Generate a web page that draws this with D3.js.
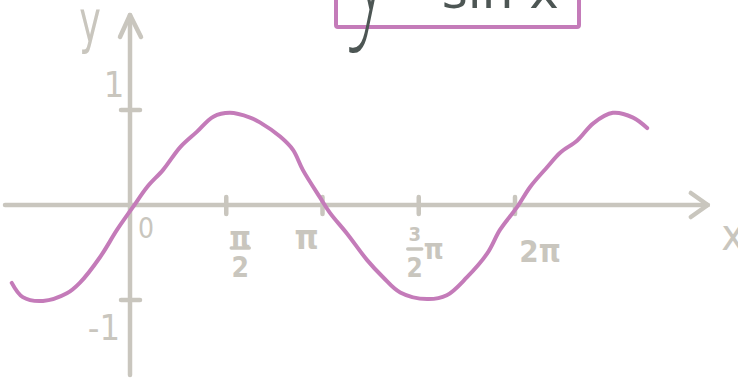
<!DOCTYPE html>
<html>
<head>
<meta charset="utf-8">
<script src="https://cdn.jsdelivr.net/npm/d3@7"></script>
<style>
  html, body { margin: 0; padding: 0; background: #ffffff; }
  svg { display: block; }
</style>
</head>
<body>
<div id="chart"></div>
<script>
// curve points: x in radians, y value
const curveX = [-1.93, -1.75, -1.42, -1.03, -0.82, -0.49, -0.21, 0.05, 0.28, 0.54,
                0.82, 1.09, 1.36, 1.63, 1.96, 2.12, 2.45, 2.66, 2.82, 3.10,
                3.26, 3.54, 3.87, 4.13, 4.41, 4.85, 5.17, 5.50, 5.83, 6.04,
                6.32, 6.53, 6.81, 7.02, 7.30, 7.56, 7.88, 8.21, 8.44];
const curveY = [-0.82, -0.97, -1.01, -0.93, -0.82, -0.55, -0.26, -0.02, 0.19, 0.37,
                0.61, 0.77, 0.93, 0.97, 0.92, 0.87, 0.72, 0.58, 0.37, 0.08,
                -0.08, -0.30, -0.58, -0.76, -0.92, -0.99, -0.95, -0.76, -0.51, -0.26,
                -0.02, 0.19, 0.40, 0.55, 0.68, 0.86, 0.97, 0.92, 0.81];

// tick values and labels
const xTickValues = [Math.PI / 2, Math.PI, 3 * Math.PI / 2, 2 * Math.PI];
const xTickLabels = ["π/2", "π", "3/2π", "2π"];
const yTickValues = [1, -1];
const yTickLabels = ["1", "-1"];
const titleY = "y";
const titleRest = "= sin x";

const W = 738, H = 378;
const grey = "#c9c6be", pink = "#c47bb9", dark = "#4d5654";

const svg = d3.select("#chart")
  .append("svg")
    .attr("width", W)
    .attr("height", H);

// scales
const x = d3.scaleLinear().domain([0, 2 * Math.PI]).range([130, 515]);
const y = d3.scaleLinear().domain([-1, 1]).range([300, 110]);

const xExtent = [-2.04, 9.43];
const yExtent = [-1.79, 2.0];

const axes = svg.append("g")
  .attr("stroke", grey)
  .attr("stroke-width", 4.5)
  .attr("stroke-linecap", "round")
  .attr("stroke-linejoin", "round")
  .attr("fill", "none");

// x axis with arrow
axes.append("line")
  .attr("x1", x(xExtent[0])).attr("y1", y(0))
  .attr("x2", x(xExtent[1])).attr("y2", y(0));
axes.append("path")
  .attr("d", `M${x(xExtent[1]) - 17},${y(0) - 12} L${x(xExtent[1])},${y(0)} L${x(xExtent[1]) - 17},${y(0) + 12}`);

// y axis with arrow
axes.append("line")
  .attr("x1", x(0)).attr("y1", y(yExtent[0]))
  .attr("x2", x(0)).attr("y2", y(yExtent[1]));
axes.append("path")
  .attr("d", `M${x(0) - 10},${y(yExtent[1]) + 22} L${x(0)},${y(yExtent[1])} L${x(0) + 11},${y(yExtent[1]) + 22}`);

// ticks
axes.selectAll(".xtick")
  .data(xTickValues)
  .join("line")
    .attr("class", "xtick")
    .attr("x1", d => x(d)).attr("x2", d => x(d))
    .attr("y1", y(0) - 8).attr("y2", y(0) + 9);

axes.selectAll(".ytick")
  .data(yTickValues)
  .join("line")
    .attr("class", "ytick")
    .attr("x1", x(0) - 9).attr("x2", x(0) + 10)
    .attr("y1", d => y(d)).attr("y2", d => y(d));

// curve
const pts = curveX.map((d, i) => [d, curveY[i]]);
svg.append("path")
  .datum(pts)
  .attr("fill", "none")
  .attr("stroke", pink)
  .attr("stroke-width", 4)
  .attr("stroke-linecap", "round")
  .attr("stroke-linejoin", "round")
  .attr("d", d3.line()
    .x(d => x(d[0]))
    .y(d => y(d[1]))
    .curve(d3.curveCatmullRom.alpha(0.5)));

// labels
const font = "'DejaVu Sans Condensed', 'DejaVu Sans', sans-serif";
const labels = svg.append("g")
  .attr("fill", grey)
  .attr("font-family", font)
  .attr("font-weight", "bold")
  .attr("text-anchor", "middle");

// origin
labels.append("text")
  .attr("x", x(0) + 16).attr("y", y(0) + 33)
  .attr("font-size", 28)
  .attr("font-weight", "normal")
  .text("0");

// x tick labels, fractions stacked
const labelDx = [14, -16, 0, 25];
xTickValues.forEach((v, i) => {
  const lab = xTickLabels[i];
  const cx = x(v) + labelDx[i];
  if (lab.includes("/")) {
    const parts = lab.split("/");
    const num = parts[0], rest = parts[1];
    const den = rest.replace("π", "");
    const hasPi = rest.includes("π");
    const fx = hasPi ? cx - 4 : cx;
    labels.append("text")
      .attr("x", fx).attr("y", y(0) + (hasPi ? 36 : 43))
      .attr("font-size", hasPi ? 20 : 30)
      .text(num);
    labels.append("line")
      .attr("x1", fx - (hasPi ? 7 : 9)).attr("x2", fx + (hasPi ? 7 : 9))
      .attr("y1", y(0) + (hasPi ? 44 : 43)).attr("y2", y(0) + (hasPi ? 44 : 43))
      .attr("stroke", grey).attr("stroke-width", 3.5).attr("stroke-linecap", "round");
    labels.append("text")
      .attr("x", fx).attr("y", y(0) + 72)
      .attr("font-size", hasPi ? 26 : 28)
      .text(den);
    if (hasPi) {
      labels.append("text")
        .attr("x", fx + 19).attr("y", y(0) + 54)
        .attr("font-size", 28)
        .text("π");
    }
  } else {
    labels.append("text")
      .attr("x", cx).attr("y", y(0) + (lab === "π" ? 44 : 57))
      .attr("font-size", lab === "π" ? 34 : 31)
      .text(lab);
  }
});

// y tick labels
labels.selectAll(".ylab")
  .data(yTickValues)
  .join("text")
    .attr("class", "ylab")
    .attr("x", d => x(0) + (d > 0 ? -16 : -26))
    .attr("y", d => y(d) + (d > 0 ? -13 : 40))
    .attr("font-size", 36)
    .attr("font-weight", "normal")
    .text((d, i) => yTickLabels[i]);

// axis names
labels.append("text")
  .attr("transform", "translate(90,42) scale(0.7,1)")
  .attr("font-size", 58)
  .attr("font-weight", "normal")
  .text("y");
labels.append("text")
  .attr("x", 733).attr("y", 250)
  .attr("font-size", 44)
  .attr("font-weight", "normal")
  .text("x");

// title box, cut at the top
svg.append("rect")
  .attr("x", 336).attr("y", -40)
  .attr("width", 243).attr("height", 67)
  .attr("fill", "none")
  .attr("stroke", pink)
  .attr("stroke-width", 4)
  .attr("rx", 2);

const title = svg.append("g")
  .attr("fill", dark);
title.append("text")
  .attr("transform", "translate(344,10) scale(0.55,1)")
  .attr("font-family", "Roboto, 'DejaVu Sans', sans-serif")
  .attr("font-weight", 100)
  .attr("font-size", 200)
  .text(titleY);
title.append("text")
  .attr("x", 384).attr("y", 8)
  .attr("font-family", "'DejaVu Sans', sans-serif")
  .attr("font-size", 50)
  .text(titleRest);
</script>
</body>
</html>
